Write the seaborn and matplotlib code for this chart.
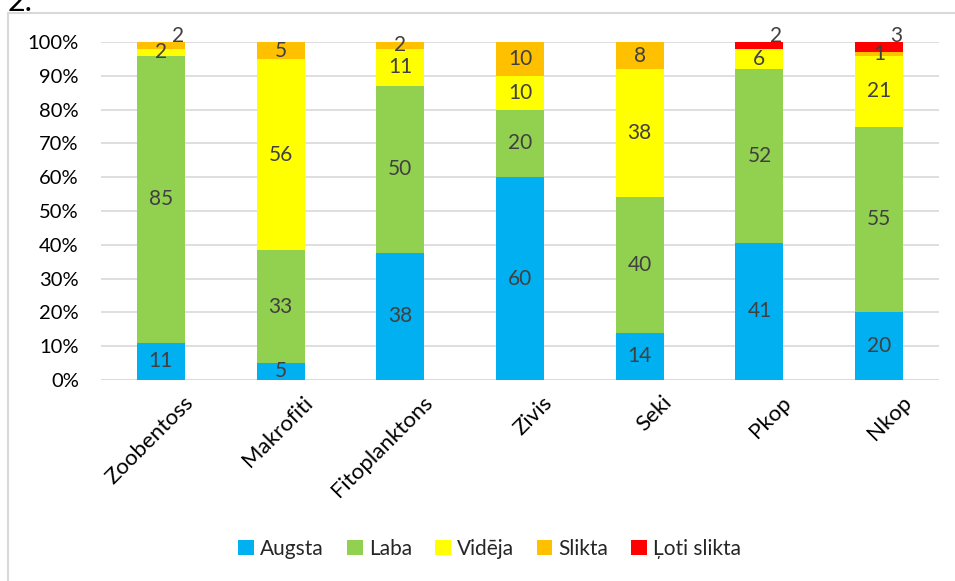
import numpy as np
import pandas as pd
import matplotlib.pyplot as plt
import seaborn as sns
from matplotlib.lines import Line2D
from matplotlib.patches import Patch
from matplotlib.transforms import ScaledTranslation

# categories and series
categories = ['Zoobentoss', 'Makrofiti', 'Fitoplanktons', 'Zivis', 'Seki', 'Pkop', 'Nkop']
series = ['Augsta', 'Laba', 'Vidēja', 'Slikta', 'Ļoti slikta']
colors = ['#00B0F0', '#92D050', '#FFFF00', '#FFC000', '#FF0000']

augsta = [11, 5, 38, 60, 14, 41, 20]
laba = [85, 33, 50, 20, 40, 52, 55]
videja = [2, 56, 11, 10, 38, 6, 21]
slikta = [2, 5, 2, 10, 8, 0, 1]
loti_slikta = [0, 0, 0, 0, 0, 2, 3]

sns.set_style('white')
plt.rcParams['font.family'] = ['Lato', 'DejaVu Sans']

vals = np.array([augsta, laba, videja, slikta, loti_slikta], dtype=float)
pct = vals / vals.sum(axis=0) * 100
cum = np.cumsum(pct, axis=0)

fig = plt.figure(figsize=(9.55, 5.81), dpi=100)
ax = fig.add_axes([101 / 955, 1 - 380 / 581, 838 / 955, 338 / 581])

# draw cumulative layers from the top down so each covers the next
for i in reversed(range(len(series))):
    df = pd.DataFrame({'cat': categories, 'val': cum[i]})
    sns.barplot(data=df, x='cat', y='val', color=colors[i], width=0.4,
                saturation=1, linewidth=0, edgecolor='none', ax=ax, zorder=2)

# value labels
for j in range(len(categories)):
    nz = [i for i in range(len(series)) if vals[i, j] > 0]
    prev_y = None
    for i in nz:
        lo = cum[i - 1, j] if i > 0 else 0
        y = (lo + cum[i, j]) / 2
        x = j
        if i == nz[-1] and vals[i, j] <= 3 and prev_y is not None and y - prev_y < 4.5:
            y = 101.8
            x = j + 0.14
        ax.text(x, y, str(int(vals[i, j])), ha='center', va='center',
                fontsize=15, color='#404040', zorder=3, clip_on=False)
        prev_y = y

ax.set_ylim(0, 100)
ax.set_xlim(-0.5, len(categories) - 0.5)
ax.set_yticks(range(0, 101, 10))
ax.set_yticklabels([f'{t}%' for t in range(0, 101, 10)])
ax.yaxis.grid(True, color='#D9D9D9', lw=1.2, zorder=0)
ax.set_axisbelow(True)
for s in ax.spines.values():
    s.set_visible(False)
ax.axhline(0, color='#D9D9D9', lw=1.2, zorder=1)
ax.set_xlabel('')
ax.set_ylabel('')
ax.tick_params(axis='y', length=0, pad=16, labelsize=14.5, labelcolor='#000000')
ax.tick_params(axis='x', length=0, pad=9, labelsize=16, labelcolor='#000000')
offset = ScaledTranslation(0.22, 0, fig.dpi_scale_trans)
for lbl in ax.get_xticklabels():
    lbl.set_rotation(45)
    lbl.set_ha('right')
    lbl.set_rotation_mode('anchor')
    lbl.set_transform(lbl.get_transform() + offset)

handles = [Patch(facecolor=c, edgecolor='none') for c in colors]
fig.legend(handles, series, loc='center', bbox_to_anchor=(0.513, 1 - 549 / 581),
           ncol=5, frameon=False, fontsize=15, handlelength=0.75, handleheight=0.75,
           handletextpad=0.3, columnspacing=1.1)

# outer chart frame
fig.add_artist(Line2D([7.5 / 955, 1], [1 - 13 / 581, 1 - 13 / 581],
                      color='#D9D9D9', lw=1.5, transform=fig.transFigure))
fig.add_artist(Line2D([7.5 / 955, 7.5 / 955], [0, 1 - 13 / 581],
                      color='#D9D9D9', lw=1.5, transform=fig.transFigure))
fig.text(8 / 955, 1 - 11 / 581, '2.', fontsize=22, color='black', va='baseline')

fig.savefig('out.png', dpi=100)
